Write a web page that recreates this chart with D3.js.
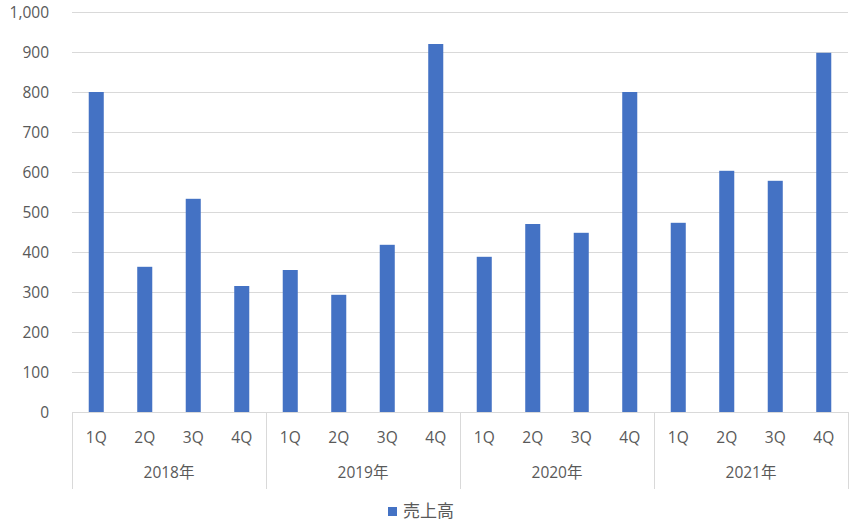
<!DOCTYPE html>
<html><head><meta charset="utf-8">
<script src="https://cdn.jsdelivr.net/npm/d3@7"></script>
<style>
body{margin:0;background:#fff;}
text{font-family:"Open Sans","Noto Sans CJK JP",sans-serif;fill:#595959;}
</style></head>
<body>
<svg id="c" width="862" height="523"></svg>
<script>
const years = ["2018年","2019年","2020年","2021年"];
const quarters = ["1Q","2Q","3Q","4Q"];
const sales = [800,363,533,315, 355,293,418,920, 388,470,448,800, 473,603,578,898];
const yTicks = [0,100,200,300,400,500,600,700,800,900,1000];
const seriesName = "売上高";

(function(){
const svg = d3.select("#c");
const pL = 72, pR = 848, pT = 12, pB = 412;
const cats = [];
years.forEach(yr => quarters.forEach(q => cats.push(yr + "|" + q)));

const x = d3.scaleBand().domain(cats).range([pL, pR]).paddingInner(0.69).paddingOuter(0.345);
const xg = d3.scaleBand().domain(years).range([pL, pR]);
const y = d3.scaleLinear().domain([0, 1000]).range([pB, pT]);

svg.append("g").selectAll("line").data(yTicks.filter(d => d > 0)).join("line")
  .attr("x1", pL).attr("x2", pR)
  .attr("y1", d => y(d) + 0.5).attr("y2", d => y(d) + 0.5)
  .attr("stroke", "#d9d9d9").attr("stroke-width", 1);

const fmt = d3.format(",");
svg.append("g").selectAll("text").data(yTicks).join("text")
  .attr("x", 49).attr("y", d => y(d)).attr("dy", "0.36em")
  .attr("text-anchor", "end").style("font-size", "15.5px")
  .text(d => fmt(d));

svg.append("g").selectAll("rect").data(sales).join("rect")
  .attr("x", (d, i) => x(cats[i])).attr("width", x.bandwidth())
  .attr("y", d => y(d)).attr("height", d => y(0) - y(d))
  .attr("fill", "#4472c4");

svg.append("line").attr("x1", pL).attr("x2", pR)
  .attr("y1", pB + 0.5).attr("y2", pB + 0.5)
  .attr("stroke", "#d9d9d9");

const seps = years.map(yr => xg(yr)).concat([pR]);
svg.append("g").selectAll("line").data(seps).join("line")
  .attr("x1", d => Math.round(d) + 0.5).attr("x2", d => Math.round(d) + 0.5)
  .attr("y1", pB).attr("y2", 489)
  .attr("stroke", "#d9d9d9");

svg.append("g").selectAll("text").data(cats).join("text")
  .attr("x", d => x(d) + x.bandwidth() / 2).attr("y", 437).attr("dy", "0.36em")
  .attr("text-anchor", "middle").style("font-size", "15.5px")
  .text(d => d.split("|")[1]);

svg.append("g").selectAll("text").data(years).join("text")
  .attr("x", d => xg(d) + xg.bandwidth() / 2).attr("y", 472.5).attr("dy", "0.36em")
  .attr("text-anchor", "middle").style("font-size", "15.5px")
  .text(d => d);

const lg = svg.append("g");
lg.append("rect").attr("x", 388).attr("y", 507).attr("width", 9).attr("height", 9).attr("fill", "#4472c4");
lg.append("text").attr("x", 403).attr("y", 511).attr("dy", "0.35em")
  .style("font-family", "'Noto Sans CJK JP',sans-serif").style("font-size", "17px").text(seriesName);
})();
</script>
</body></html>
